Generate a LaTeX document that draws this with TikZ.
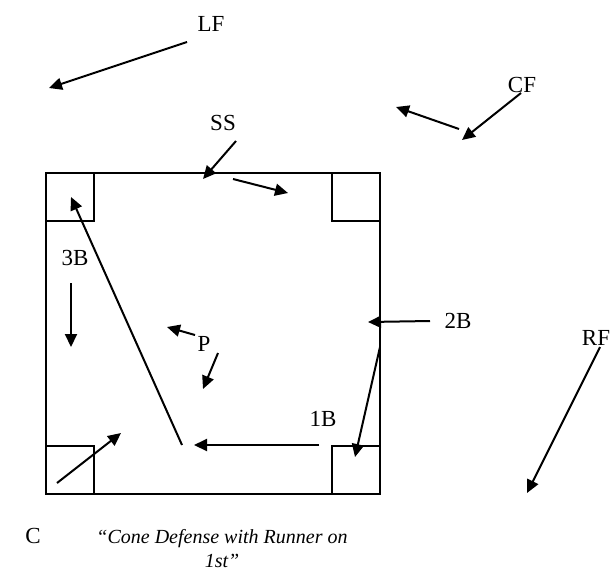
\documentclass[tikz,border=0pt]{standalone}
\usepackage{fontspec}
\setmainfont{Liberation Serif}
\usetikzlibrary{arrows.meta}
\tikzset{
  >={Triangle[length=13pt,width=12pt]},
  player/.style={font=\fontsize{23}{26}\selectfont,inner sep=0pt},
  arr/.style={->,line width=2pt},
  field/.style={line width=1.8pt},
  bag/.style={line width=1.5pt},
}
\begin{document}
\begin{tikzpicture}[x=1pt,y=-1pt]
\useasboundingbox (0,0) rectangle (612,571);
% infield
\draw[field] (46,173) rectangle (380,494);
\foreach \bx/\by in {46/173,332/173,46/446,332/446}{
  \draw[bag] (\bx,\by) rectangle ++(48,48);
}
% players
\node[player] (LF) at (211,24) {LF};
\node[player] (CF) at (522,85) {CF};
\node[player] (SS) at (223,123) {SS};
\node[player] (3B) at (75,258) {3B};
\node[player] (P) at (204,344) {P};
\node[player] (1B) at (323,419) {1B};
\node[player] (2B) at (458,321) {2B};
\node[player] (RF) at (596,338) {RF};
\node[player] (C) at (33,536) {C};
% moves
\foreach \n/\ax/\ay/\bx/\by in {lf/187/42/49/88, cf/521/93/462/140, cfb/459/129/396/107,
    ss/236/141/203/179, ssb/233/179/288/193, thr/182/445/71/197, tb/71/283/71/347,
    pa/195/335/167/327, pb/218/353/203/389, fb/319/445/194/445, sb/430/321/368/322,
    sbb/380/347/355/457, ca/57/483/121/433, rf/600/347/527/493}{
  \coordinate (\n-s) at (\ax,\ay);
  \coordinate (\n-e) at (\bx,\by);
  \draw[arr] (\n-s) -- (\n-e);
}
\node[font=\fontsize{20}{24}\selectfont\itshape,align=center,inner sep=0pt] (cap) at (222,549)
  {“Cone Defense with Runner on\\ 1st”};
\end{tikzpicture}
\end{document}
